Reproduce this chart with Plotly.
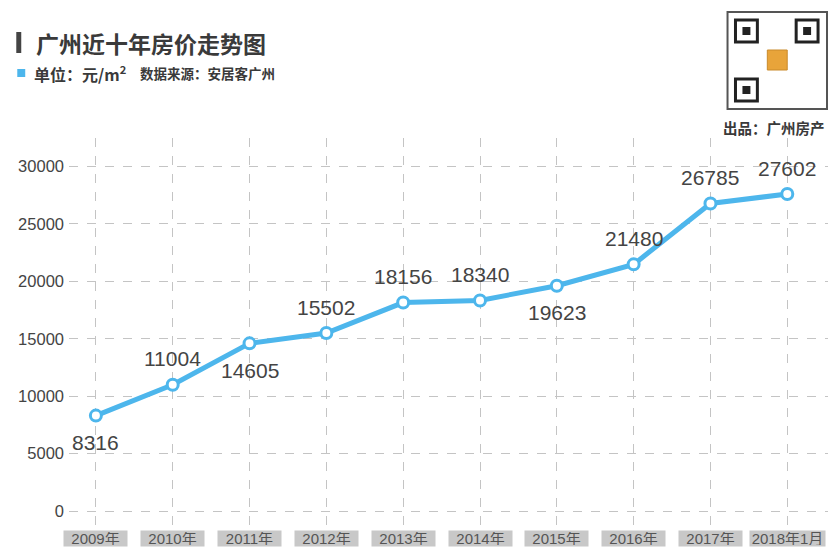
import plotly.graph_objects as go

years = ["2009年", "2010年", "2011年", "2012年", "2013年", "2014年",
         "2015年", "2016年", "2017年", "2018年1月"]
prices = [8316, 11004, 14605, 15502, 18156, 18340, 19623, 21480, 26785, 27602]
label_below = [True, False, True, False, False, False, True, False, False, False]
y_ticks = [0, 5000, 10000, 15000, 20000, 25000, 30000]

# page body has an 8px margin, so the figure is drawn 8px smaller and offset
OFF = 8
W, H = 838 - OFF, 560 - OFF
L, R, T, B = 65 - OFF, 838 - 828, 138 - OFF, 560 - 527
FONT = "Noto Sans CJK SC"
BLUE = "#4db6ec"


def px(x):
    # reference pixel x -> paper x
    return (x - OFF - L) / (W - L - R)


def py(y):
    # reference pixel y -> paper y
    return (H - B - (y - OFF)) / (H - T - B)


fig = go.Figure()

fig.add_trace(go.Scatter(
    x=years, y=prices, mode="lines+markers",
    line=dict(color=BLUE, width=5),
    marker=dict(size=11, color="white", line=dict(color=BLUE, width=3)),
    cliponaxis=False, showlegend=False,
))

# value labels
for yr, v, below in zip(years, prices, label_below):
    fig.add_annotation(x=yr, y=v, xref="x", yref="y", text=str(v), showarrow=False,
                       yanchor="middle", yshift=-27 if below else 26,
                       font=dict(family="Liberation Sans, Arial", size=21, color="#444444"))

# x labels with grey boxes
for yr in years:
    fig.add_annotation(x=yr, y=py(538), xref="x", yref="paper", text=yr,
                       showarrow=False, bgcolor="#c8c8c8", yanchor="middle",
                       width=73 if len(yr) > 5 else 61, height=13,
                       font=dict(family="Liberation Sans, " + FONT, size=15, color="#555555"))

# title block
fig.add_shape(type="rect", xref="paper", yref="paper",
              x0=px(12), x1=px(17), y0=py(53), y1=py(32),
              fillcolor="#444444", line_width=0)
fig.add_annotation(x=px(30), y=py(43), xref="paper", yref="paper",
                   xanchor="left", yanchor="middle",
                   text="<b>广州近十年房价走势图</b>", showarrow=False,
                   font=dict(family=FONT, size=23, color="#3a3a3a"))
fig.add_shape(type="rect", xref="paper", yref="paper",
              x0=px(13), x1=px(21), y0=py(77), y1=py(69),
              fillcolor=BLUE, line_width=0)
fig.add_annotation(x=px(28), y=py(73), xref="paper", yref="paper",
                   xanchor="left", yanchor="middle",
                   text="<b>单位：元/m<sup>2</sup></b>", showarrow=False,
                   font=dict(family=FONT, size=16, color="#3a3a3a"))
fig.add_annotation(x=px(134), y=py(73), xref="paper", yref="paper",
                   xanchor="left", yanchor="middle",
                   text="<b>数据来源：安居客广州</b>", showarrow=False,
                   font=dict(family=FONT, size=13.5, color="#3a3a3a"))

# QR code placeholder
fig.add_shape(type="rect", xref="paper", yref="paper",
              x0=px(727), x1=px(827), y0=py(109), y1=py(12),
              line=dict(color="#555555", width=2), fillcolor="white")
for (qx, qy) in [(735, 20), (796, 20), (735, 79)]:
    fig.add_shape(type="rect", xref="paper", yref="paper",
                  x0=px(qx), x1=px(qx + 22), y0=py(qy + 22), y1=py(qy),
                  line=dict(color="#222222", width=3), fillcolor="white")
    fig.add_shape(type="rect", xref="paper", yref="paper",
                  x0=px(qx + 7), x1=px(qx + 15), y0=py(qy + 15), y1=py(qy + 7),
                  line_width=0, fillcolor="#222222")
fig.add_shape(type="rect", xref="paper", yref="paper",
              x0=px(767), x1=px(787), y0=py(70), y1=py(50),
              line=dict(color="#c98a2a", width=1), fillcolor="#e8a43a")
fig.add_annotation(x=px(827), y=py(128), xref="paper", yref="paper",
                   xanchor="right", yanchor="middle",
                   text="<b>出品：广州房产</b>", showarrow=False,
                   font=dict(family=FONT, size=14.5, color="#3a3a3a"))

fig.update_xaxes(
    type="category", range=[-0.35, 9.53],
    showgrid=True, gridcolor="#c4c4c4", griddash="dash", gridwidth=1,
    showticklabels=False, zeroline=False, showline=False, ticks="",
)
fig.update_yaxes(
    range=[-1380, 32480], tickvals=y_ticks, tickformat="d",
    showgrid=True, gridcolor="#c4c4c4", griddash="dash", gridwidth=1,
    zeroline=False, showline=False, ticks="", ticklabelstandoff=4,
    tickfont=dict(family="Liberation Sans, Arial", size=16.5, color="#444444"),
)

fig.update_layout(
    width=W, height=H,
    margin=dict(l=L, r=R, t=T, b=B),
    paper_bgcolor="white", plot_bgcolor="white",
)

fig.write_html("out.html")
